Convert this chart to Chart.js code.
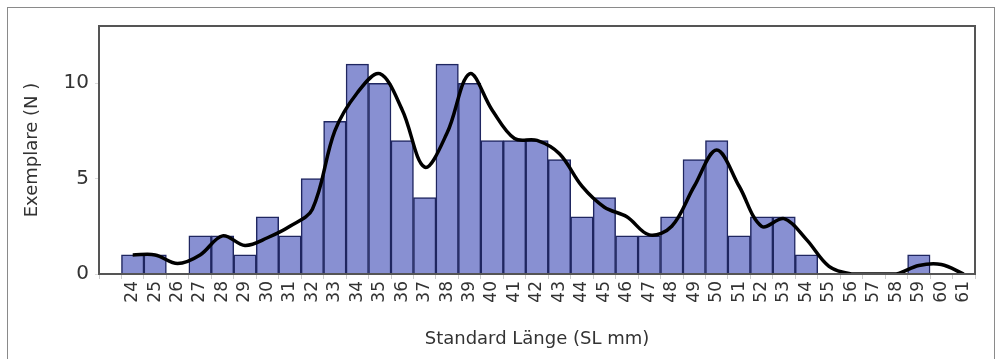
<!DOCTYPE html>
<html>
<head>
<meta charset="utf-8">
<script src="https://cdn.jsdelivr.net/npm/chart.js@4/dist/chart.umd.min.js"></script>
<style>
  html, body { margin: 0; padding: 0; background: #ffffff; }
  #wrap { width: 996px; height: 359px; }
</style>
</head>
<body>
<div id="wrap"><canvas id="myChart" width="996" height="359"></canvas></div>
<script>
// Standardlänge in mm (erste Kategorie leer)
let laengen = ["", "24", "25", "26", "27", "28", "29", "30", "31", "32", "33", "34", "35", "36", "37", "38", "39", "40", "41", "42", "43", "44", "45", "46", "47", "48", "49", "50", "51", "52", "53", "54", "55", "56", "57", "58", "59", "60", "61"];
// Anzahl Exemplare pro Länge
let exemplare = [null, 1, 1, 0, 2, 2, 1, 3, 2, 5, 8, 11, 10, 7, 4, 11, 10, 7, 7, 7, 6, 3, 4, 2, 2, 3, 6, 7, 2, 3, 3, 1, 0, 0, 0, 0, 1, 0, 0];
// geglättete Kurve
let kurve = [null, 1.0, 1.0, 0.55, 1.0, 2.0, 1.5, 1.9, 2.5, 3.4, 7.5, 9.5, 10.5, 8.6, 5.6, 7.4, 10.5, 8.6, 7.1, 7.0, 6.3, 4.6, 3.5, 3.0, 2.05, 2.5, 4.6, 6.5, 4.6, 2.5, 2.9, 1.8, 0.4, 0, 0, 0, 0.45, 0.5, 0];
let yTicks = [0, 5, 10];

const schrift = "'DejaVu Sans', sans-serif";

// Rahmen um das Diagramm und um die Plotfläche
const rahmen = {
  id: "rahmen",
  beforeDraw(chart) {
    const c = chart.ctx;
    c.save();
    c.fillStyle = "#ffffff";
    c.fillRect(0, 0, chart.width, chart.height);
    c.strokeStyle = "#8a8a8a";
    c.lineWidth = 1;
    c.strokeRect(7.5, 7.5, 987, 360);
    c.restore();
  },
  afterDatasetsDraw(chart) {
    const a = chart.chartArea;
    const c = chart.ctx;
    c.save();
    c.strokeStyle = "#555555";
    c.lineWidth = 2;
    c.strokeRect(a.left, a.top, a.right - a.left, a.bottom - a.top);
    c.restore();
  },
};

let ctx = document.getElementById("myChart").getContext("2d");
let myChart = new Chart(ctx, {
  data: {
    labels: laengen,
    datasets: [
      {
        type: "line",
        label: "Kurve",
        data: kurve,
        borderColor: "#000000",
        borderWidth: 3.5,
        pointRadius: 0,
        tension: 0.35,
        fill: false,
        order: 0,
      },
      {
        type: "bar",
        label: "Exemplare",
        data: exemplare,
        backgroundColor: "#8890d2",
        borderColor: "#1f2660",
        borderWidth: 1.5,
        barPercentage: 1,
        categoryPercentage: 1,
        order: 1,
      },
    ],
  },
  plugins: [rahmen],
  options: {
    responsive: false,
    animation: false,
    layout: { padding: { left: 0, right: 21, top: 26, bottom: 0 } },
    plugins: { legend: { display: false }, tooltip: { enabled: false } },
    scales: {
      x: {
        type: "category",
        offset: true,
        grid: { display: true, drawOnChartArea: false, offset: true, color: "#cccccc", tickLength: 5 },
        border: { display: false },
        ticks: {
          minRotation: 90,
          maxRotation: 90,
          autoSkip: false,
          color: "#333333",
          padding: 2,
          font: { family: schrift, size: 17 },
        },
        title: {
          display: true,
          text: "Standard Länge (SL mm)",
          color: "#333333",
          font: { family: schrift, size: 18 },
          padding: { top: 9, bottom: 9 },
        },
        afterFit: function (scale) {
          scale.height = 85;
        },
      },
      y: {
        min: 0,
        max: 13,
        grid: { display: true, drawOnChartArea: false, color: "#dddddd", tickLength: 4 },
        border: { display: false },
        afterBuildTicks: function (scale) {
          scale.ticks = yTicks.map((v) => ({ value: v }));
        },
        ticks: {
          color: "#333333",
          padding: 6,
          font: { family: schrift, size: 20 },
        },
        title: {
          display: true,
          text: "Exemplare (N )",
          color: "#333333",
          font: { family: schrift, size: 18 },
          padding: { top: 22, bottom: 22 },
        },
        afterFit: function (scale) {
          scale.width = 99;
        },
      },
    },
  },
});
</script>
</body>
</html>
